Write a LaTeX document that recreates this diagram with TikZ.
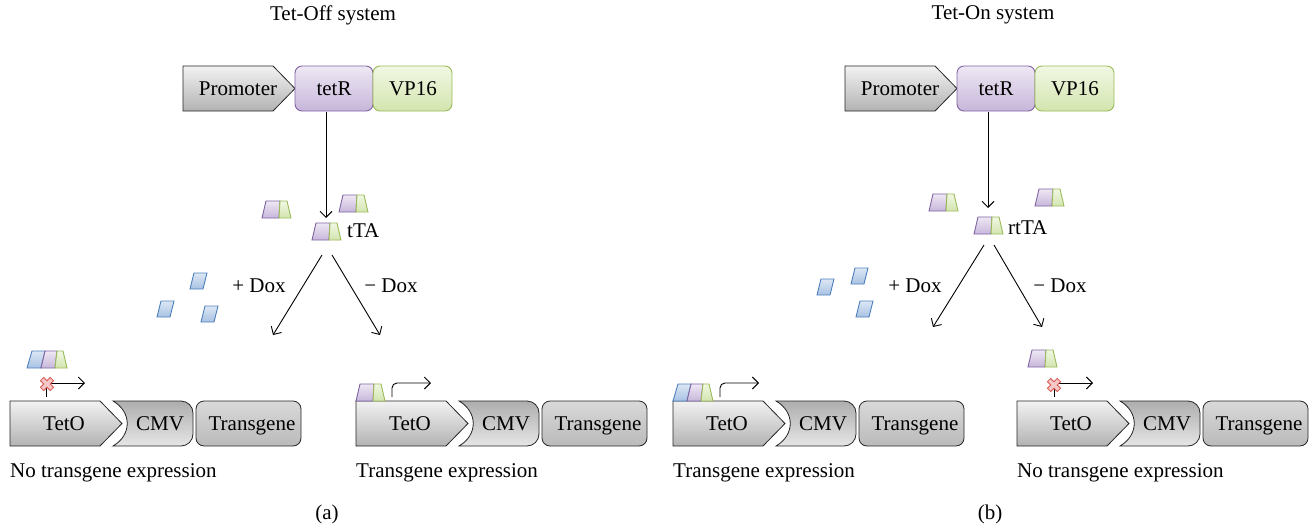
\documentclass[tikz,border=0pt]{standalone}
\usepackage{fontspec}
\setmainfont{Liberation Serif}
\usetikzlibrary{arrows.meta}
\definecolor{purpD}{HTML}{8064A2}
\definecolor{purpT}{HTML}{EEE8F4}
\definecolor{purpB}{HTML}{C7B6DA}
\definecolor{grnD}{HTML}{9BBB59}
\definecolor{grnT}{HTML}{F1F7E4}
\definecolor{grnB}{HTML}{D3E5AE}
\definecolor{bluD}{HTML}{4F81BD}
\definecolor{bluT}{HTML}{DCE7F4}
\definecolor{bluB}{HTML}{A8C2E3}
\definecolor{redD}{HTML}{D9534F}
\definecolor{redF}{HTML}{F6C9C6}
\tikzset{
  lbl/.style={anchor=base, inner sep=0pt},
  lblw/.style={anchor=base west, inner sep=0pt},
  grayA/.style={draw=black!85, line width=0.8pt, top color=black!5, bottom color=black!30},
  grayB/.style={draw=black!85, line width=0.8pt, top color=black!32, bottom color=black!10},
  grayC/.style={draw=black!85, line width=0.8pt, top color=black!15, bottom color=black!27, rounded corners=8pt},
  purpbox/.style={draw=purpD, line width=0.9pt, top color=purpT, bottom color=purpB, rounded corners=7pt},
  grnbox/.style={draw=grnD, line width=0.9pt, top color=grnT, bottom color=grnB, rounded corners=7pt},
  purp/.style={draw=purpD, line width=0.9pt, top color=purpT, bottom color=purpB},
  grn/.style={draw=grnD, line width=0.9pt, top color=grnT, bottom color=grnB},
  blu/.style={draw=bluD, line width=0.9pt, top color=bluT, bottom color=bluB},
  xst/.style={draw=redD, line width=0.8pt, fill=redF},
  arr/.style={draw=black, line width=0.9pt, -{Straight Barb[length=6pt,width=12pt]}},
  duo/.pic={
    \path[purp] (0,0) -- (17,0) -- (18,17) -- (4,17) -- cycle;
    \path[grn] (17,0) -- (29,0) -- (25,17) -- (18,17) -- cycle;
  },
  trio/.pic={
    \path[blu] (0,0) -- (14,0) -- (18,17) -- (5,17) -- cycle;
    \path[purp] (14,0) -- (28,0) -- (30,17) -- (18,17) -- cycle;
    \path[grn] (28,0) -- (40,0) -- (36,17) -- (30,17) -- cycle;
  },
  tile/.pic={
    \path[blu] (0,0) -- (13,0) -- (17,16) -- (4,16) -- cycle;
  },
  nox/.pic={
    \path[xst, rotate=45] (-2.3,-7) -- (2.3,-7) -- (2.3,-2.3) -- (7,-2.3) -- (7,2.3) -- (2.3,2.3) -- (2.3,7) -- (-2.3,7) -- (-2.3,2.3) -- (-7,2.3) -- (-7,-2.3) -- (-2.3,-2.3) -- cycle;
  },
}
\newcommand\mkconstruct[2]{%
\begin{scope}[shift={(#1,-401)}]
  \path[grayA] (0,0) -- (90,0) -- (112,-22.5) -- (90,-45) -- (0,-45) -- cycle;
  \path[grayB] (103,0) -- (171,0) arc[start angle=90,end angle=0,radius=12] -- (183,-33) arc[start angle=0,end angle=-90,radius=12] -- (103,-45) .. controls (122,-34) and (122,-11) .. cycle;
  \path[grayC] (186,0) rectangle (291,-45);
  \node[lbl] (teto#2) at (54,-29) {TetO};
  \node[lbl] (cmv#2) at (150,-29) {CMV};
  \node[lbl] (tg#2) at (242,-29) {Transgene};
\end{scope}}
\newcommand\mkgene[2]{%
\begin{scope}[shift={(#1,-66)}]
  \path[grayA] (0,0) -- (90,0) -- (112,-22.5) -- (90,-45) -- (0,-45) -- cycle;
  \path[purpbox] (112,0) rectangle (190,-45);
  \path[grnbox] (190,0) rectangle (269,-45);
  \node[lbl] (prom#2) at (55,-29) {Promoter};
  \node[lbl] (tetr#2) at (151,-29) {tetR};
  \node[lbl] (vp#2) at (230,-29) {VP16};
\end{scope}}
\begin{document}
\begin{tikzpicture}[x=1pt,y=1pt,font=\fontsize{21}{25}\selectfont]
\useasboundingbox (0,0) rectangle (1310,-525);

% ---------------- Tet-Off ----------------
\node[lbl] (titleA) at (333,-20) {Tet-Off system};
\mkgene{183}{A}
\coordinate (tA1) at (326,-112);
\coordinate (tA2) at (326,-218);
\draw[arr] (tA1) -- (tA2);
\pic at (262,-218) {duo};
\pic at (339,-212) {duo};
\pic at (312,-240) {duo};
\node[lblw] (ttaA) at (347,-237) {tTA};
\coordinate (dA0) at (322,-255);
\coordinate (dA1) at (273,-335);
\coordinate (dA2) at (332,-255);
\coordinate (dA3) at (380,-335);
\draw[arr] (dA0) -- (dA1);
\draw[arr] (dA2) -- (dA3);
\node[lbl] (plusA) at (259,-292) {+ Dox};
\node[lbl] (minusA) at (391,-292) {− Dox};
\pic at (190,-289) {tile};
\pic at (157,-317) {tile};
\pic at (201,-322) {tile};

\mkconstruct{10}{A}
\pic at (27,-368) {trio};
\coordinate (bA0) at (46,-397);
\coordinate (bA1) at (85,-383);
\draw[arr] (bA0) |- (bA1);
\pic at (47,-384) {nox};
\node[lblw] (expA) at (10,-477) {No transgene expression};

\mkconstruct{356}{B}
\pic at (356,-401) {duo};
\coordinate (bB0) at (392,-397);
\coordinate (bB1) at (431,-383);
\draw[arr, rounded corners=5pt] (bB0) |- (bB1);
\node[lblw] (expB) at (356,-477) {Transgene expression};
\node[lbl] (capA) at (327,-519) {(a)};

% ---------------- Tet-On ----------------
\node[lbl] (titleB) at (993,-19) {Tet-On system};
\mkgene{845}{C}
\coordinate (tC1) at (988,-112);
\coordinate (tC2) at (988,-208);
\draw[arr] (tC1) -- (tC2);
\pic at (929,-211) {duo};
\pic at (1035,-206) {duo};
\pic at (974,-234) {duo};
\node[lblw] (rtta) at (1008,-234) {rtTA};
\coordinate (dC0) at (984,-245);
\coordinate (dC1) at (933,-327);
\coordinate (dC2) at (994,-245);
\coordinate (dC3) at (1042,-327);
\draw[arr] (dC0) -- (dC1);
\draw[arr] (dC2) -- (dC3);
\node[lbl] (plusC) at (915,-292) {+ Dox};
\node[lbl] (minusC) at (1060,-292) {− Dox};
\pic at (817,-295) {tile};
\pic at (851,-284) {tile};
\pic at (856,-317) {tile};

\mkconstruct{673}{C}
\pic at (673,-401) {trio};
\coordinate (bC0) at (720,-397);
\coordinate (bC1) at (759,-383);
\draw[arr, rounded corners=5pt] (bC0) |- (bC1);
\node[lblw] (expC) at (673,-477) {Transgene expression};

\mkconstruct{1017}{D}
\pic at (1028,-367) {duo};
\coordinate (bD0) at (1054,-397);
\coordinate (bD1) at (1093,-383);
\draw[arr] (bD0) |- (bD1);
\pic at (1054,-385) {nox};
\node[lblw] (expD) at (1017,-477) {No transgene expression};
\node[lbl] (capB) at (990,-519) {(b)};
\end{tikzpicture}
\end{document}
